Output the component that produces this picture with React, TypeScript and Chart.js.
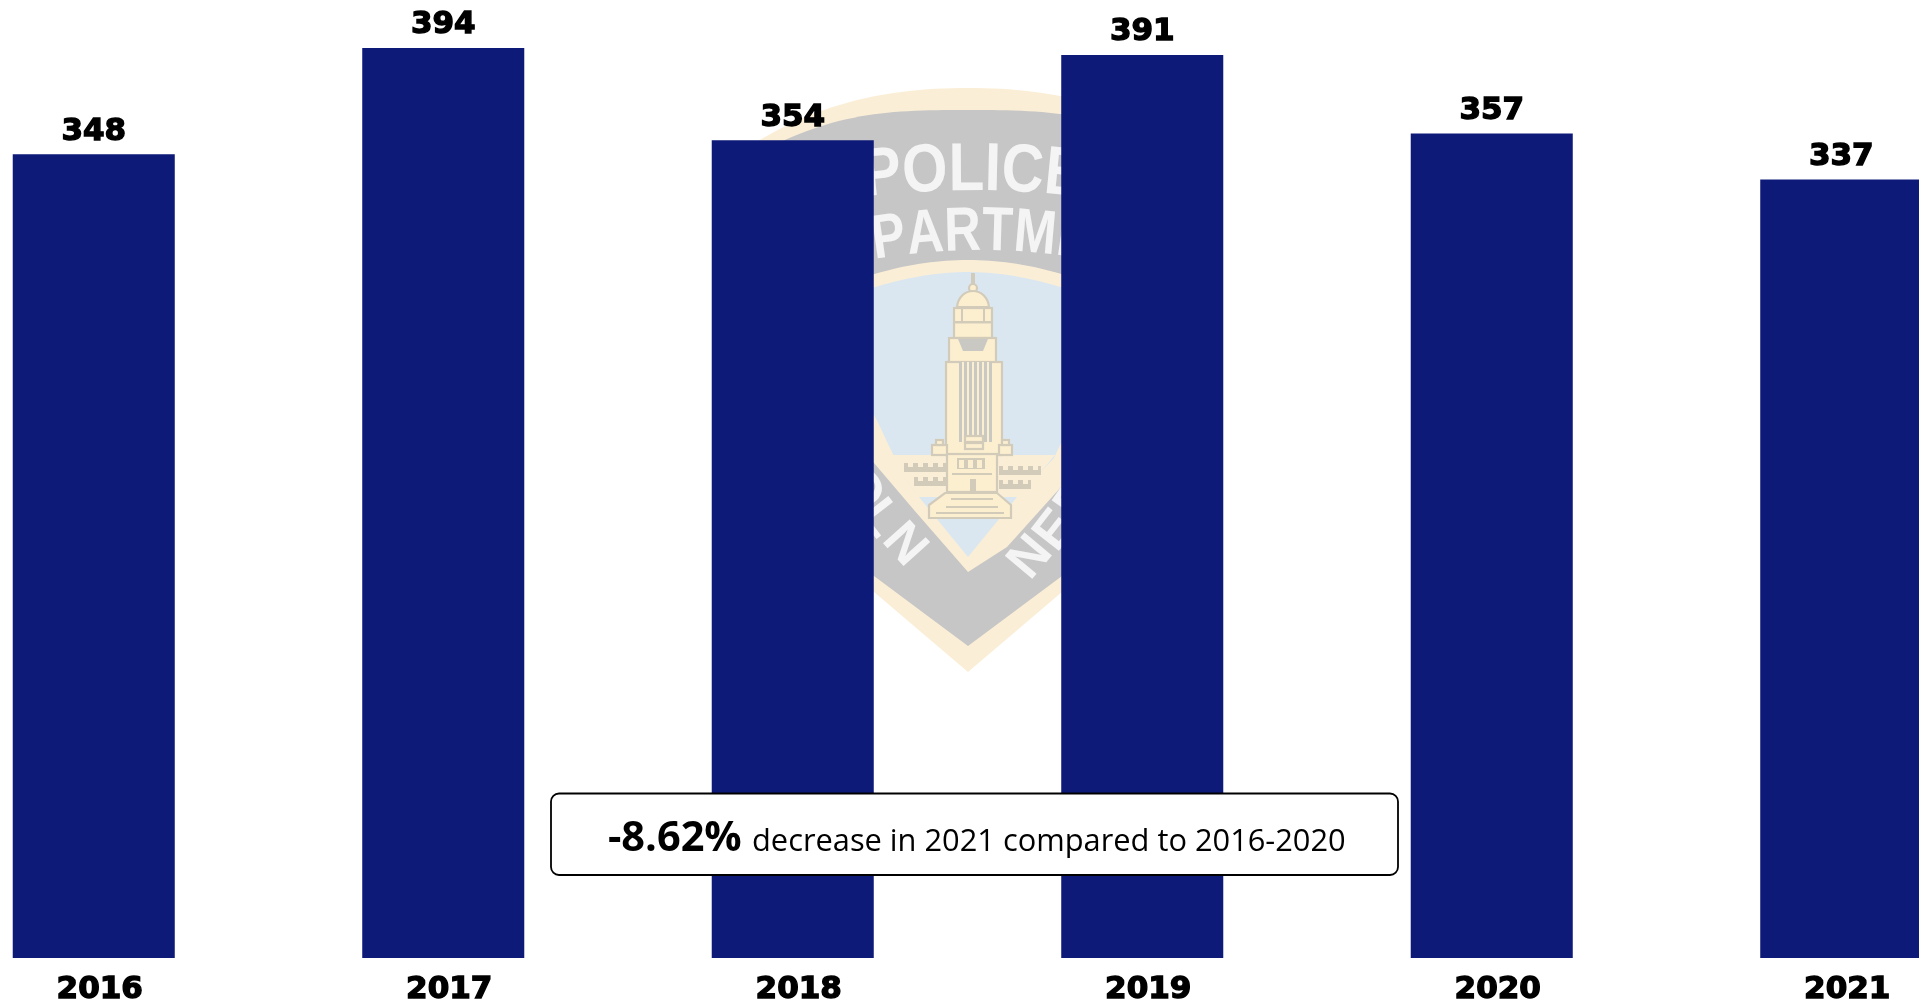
import React, { useEffect, useRef } from "react";
import { Chart, registerables } from "chart.js";

Chart.register(...registerables);

const years = ["2016", "2017", "2018", "2019", "2020", "2021"];
const cases = [348, 394, 354, 391, 357, 337];
const calloutBold = "-8.62%";
const calloutText = "decrease in 2021 compared to 2016-2020";
const CANVAS_LEFT = -81;

const barColor = "#0e1a78";
const cream = "#fbeed6";
const grey = "#c6c6c6";
const sky = "#dae7f1";
const stone = "#fcefd0";
const outline = "#d3cbba";
const shade = "#c9c8c3";

function arcWord(ctx: CanvasRenderingContext2D, word: string, cx: number, baseY: number, radius: number, font: string, xScale: number) {
  ctx.save();
  ctx.font = font;
  ctx.fillStyle = "#f4f4f4";
  ctx.textAlign = "center";
  ctx.textBaseline = "alphabetic";
  const widths = [...word].map((c) => ctx.measureText(c).width * xScale);
  const total = widths.reduce((a, b) => a + b, 0);
  let pos = -total / 2;
  [...word].forEach((c, i) => {
    const a = (pos + widths[i] / 2) / radius;
    ctx.save();
    ctx.translate(cx + Math.sin(a) * radius, baseY + radius - Math.cos(a) * radius);
    ctx.rotate(a);
    ctx.scale(xScale, 1);
    ctx.fillText(c, 0, 0);
    ctx.restore();
    pos += widths[i];
  });
  ctx.restore();
}

function drawBuilding(ctx: CanvasRenderingContext2D) {
  const box = (x: number, y: number, w: number, h: number, color = stone) => {
    ctx.fillStyle = color;
    ctx.fillRect(x, y, w, h);
  };
  const framed = (x: number, y: number, w: number, h: number) => {
    box(x, y, w, h);
    ctx.strokeRect(x, y, w, h);
  };
  ctx.strokeStyle = outline;
  ctx.lineWidth = 2.2;

  // wings joining the band
  ctx.fillStyle = cream;
  ctx.fill(new Path2D("M890 455 L1055 455 L1020 497 L918 497 Z"));
  const wing = (x0: number, x1: number, y: number, step: number) => {
    box(x0, y, x1 - x0, 9, outline);
    for (let x = x0 + 4; x < x1 - 6; x += step) box(x, y, step - 5, 4, cream);
  };
  wing(904, 946, 463, 10);
  wing(914, 946, 477, 10);
  wing(999, 1041, 466, 10);
  wing(999, 1031, 480, 10);

  // spire, dome, tower
  box(971, 273, 4, 12, outline);
  ctx.beginPath();
  ctx.arc(973, 288, 4, 0, Math.PI * 2);
  ctx.fillStyle = stone;
  ctx.fill();
  ctx.stroke();
  const dome = new Path2D("M957 307 C958 297 965 291 973 291 C981 291 988 297 989 307 Z");
  ctx.fillStyle = stone;
  ctx.fill(dome);
  ctx.stroke(dome);
  framed(954, 308, 38, 30);
  box(955, 321, 36, 2.5, outline);
  box(961, 309, 2, 12, outline);
  box(983, 309, 2, 12, outline);
  framed(949, 338, 47, 25);
  ctx.fillStyle = shade;
  ctx.fill(new Path2D("M958 339 L988 339 L983 351 L963 351 Z"));
  framed(946, 362, 56, 93);
  box(959, 362, 33, 80, shade);
  for (let x = 962; x < 992; x += 5) box(x, 362, 2, 80, stone);
  framed(965, 436, 18, 6);
  framed(965, 443, 18, 6);

  // pedestals
  framed(932, 445, 15, 10);
  framed(936, 440, 7, 5);
  framed(999, 445, 13, 10);
  framed(1002, 440, 7, 5);

  // centre block with windows
  framed(947, 454, 50, 38);
  box(957, 458, 28, 11, outline);
  for (let x = 959; x < 985; x += 9) box(x, 460, 5, 8, stone);
  box(952, 473, 40, 2, outline);
  box(970, 479, 6, 12, outline);

  // steps
  const steps = new Path2D("M929 505 L945 493 L997 493 L1011 505 L1011 518 L929 518 Z");
  ctx.fillStyle = stone;
  ctx.fill(steps);
  ctx.stroke(steps);
  box(951, 498, 42, 2, outline);
  box(946, 506, 52, 2, outline);
  box(936, 512, 68, 2, outline);
}

function drawEmblem(ctx: CanvasRenderingContext2D) {
  // Faded department shield behind the bars (page pixel coordinates)
  const fill = (d: string, color: string) => {
    ctx.fillStyle = color;
    ctx.fill(new Path2D(d));
  };
  ctx.save();
  ctx.translate(-CANVAS_LEFT, 0);
  fill("M968 88 C880 88 800 105 716 170 C725 400 785 520 874 592 L968 672 L1062 592 C1151 520 1211 400 1220 170 C1136 105 1056 88 968 88 Z", cream);
  fill("M968 110 C880 110 830 112 735 165 C745 400 790 510 874 576 L968 646 L1062 576 C1146 510 1191 400 1201 165 C1106 112 1056 110 968 110 Z", grey);
  fill("M968 260 C910 260 860 275 760 315 C770 370 820 400 874 463 L914 510 L968 572 L1007 547 L1061 487 C1110 430 1165 370 1176 315 C1076 275 1026 260 968 260 Z", cream);
  fill("M968 272 C915 272 865 287 770 325 C800 360 860 390 874 415 C885 435 900 475 919 497 L968 557 L1017 497 L1054 458 L1061 443 C1090 410 1140 370 1166 325 C1071 287 1021 272 968 272 Z", sky);

  arcWord(ctx, "POLICE", 973, 190, 900, "bold 68px 'Liberation Sans'", 0.86);
  arcWord(ctx, "DEPARTMENT", 980, 250, 620, "bold 62px 'Liberation Sans'", 0.82);

  // Lower lettering along the two edges
  ctx.fillStyle = "#f4f4f4";
  ctx.font = "bold 52px 'Liberation Sans'";
  ctx.textAlign = "center";
  ctx.textBaseline = "middle";
  const letter = (c: string, x: number, y: number, deg: number) => {
    ctx.save();
    ctx.translate(x, y);
    ctx.rotate((deg * Math.PI) / 180);
    ctx.fillText(c, 0, 0);
    ctx.restore();
  };
  letter("O", 860, 490, 55);
  letter("L", 879, 519, 52);
  letter("N", 904, 545, 48);
  letter("N", 1031, 558, -50);
  letter("E", 1056, 531, -52);
  letter("B", 1078, 500, -55);

  drawBuilding(ctx);
  ctx.restore();
}

const emblemPlugin = {
  id: "emblem",
  beforeDatasetsDraw(chart: Chart) {
    drawEmblem(chart.ctx);
  },
};

const valueLabelPlugin = {
  id: "valueLabels",
  afterDatasetsDraw(chart: Chart) {
    const { ctx } = chart;
    ctx.save();
    ctx.font = "bold 31px 'DejaVu Sans'";
    ctx.fillStyle = "#000";
    ctx.strokeStyle = "#000";
    ctx.lineWidth = 1.4;
    ctx.textAlign = "center";
    ctx.textBaseline = "alphabetic";
    chart.getDatasetMeta(0).data.forEach((bar: any, i: number) => {
      ctx.fillText(String(cases[i]), bar.x, bar.y - 14.5);
      ctx.strokeText(String(cases[i]), bar.x, bar.y - 14.5);
    });
    ctx.restore();
  },
};

const calloutPlugin = {
  id: "callout",
  afterDraw(chart: Chart) {
    const { ctx } = chart;
    ctx.save();
    ctx.translate(-CANVAS_LEFT, 0);
    ctx.beginPath();
    ctx.roundRect(551, 793.5, 847, 81.5, 8);
    ctx.fillStyle = "#fff";
    ctx.fill();
    ctx.strokeStyle = "#000";
    ctx.lineWidth = 1.8;
    ctx.stroke();
    ctx.fillStyle = "#000";
    ctx.textAlign = "left";
    ctx.textBaseline = "alphabetic";
    ctx.font = "bold 41.5px 'Open Sans'";
    ctx.fillText(calloutBold, 608, 851);
    ctx.font = "30.8px 'Open Sans'";
    ctx.fillText(calloutText, 752, 851);
    ctx.restore();
  },
};

export default function App() {
  const ref = useRef<HTMLCanvasElement>(null);
  useEffect(() => {
    const chart = new Chart(ref.current!, {
      type: "bar",
      data: {
        labels: years,
        datasets: [
          {
            data: cases,
            backgroundColor: barColor,
            categoryPercentage: 1,
            barPercentage: 0.4636,
          },
        ],
      },
      options: {
        animation: false,
        responsive: false,
        layout: { padding: { top: 11, left: 0, right: 0, bottom: 0 } },
        plugins: { legend: { display: false }, tooltip: { enabled: false }, title: { display: false } },
        scales: {
          x: {
            grid: { display: false },
            border: { display: false },
            afterFit: (s: any) => {
              s.height = 45;
            },
            ticks: {
              color: "#000",
              font: { family: "'DejaVu Sans'", weight: "bold", size: 31 },
              textStrokeColor: "#000",
              textStrokeWidth: 1.4,
              labelOffset: 6,
              maxRotation: 0,
              padding: 5,
            },
          },
          y: { display: false, min: 0, max: 410 },
        },
      },
      plugins: [emblemPlugin, valueLabelPlugin, calloutPlugin],
    } as any);
    return () => chart.destroy();
  }, []);
  return (
    <div style={{ position: "absolute", left: 0, top: 0, width: 1919, height: 1003, overflow: "hidden", background: "#fff" }}>
      <canvas ref={ref} width={2097} height={1003} style={{ position: "absolute", left: CANVAS_LEFT, top: 0, display: "block" }} />
    </div>
  );
}
